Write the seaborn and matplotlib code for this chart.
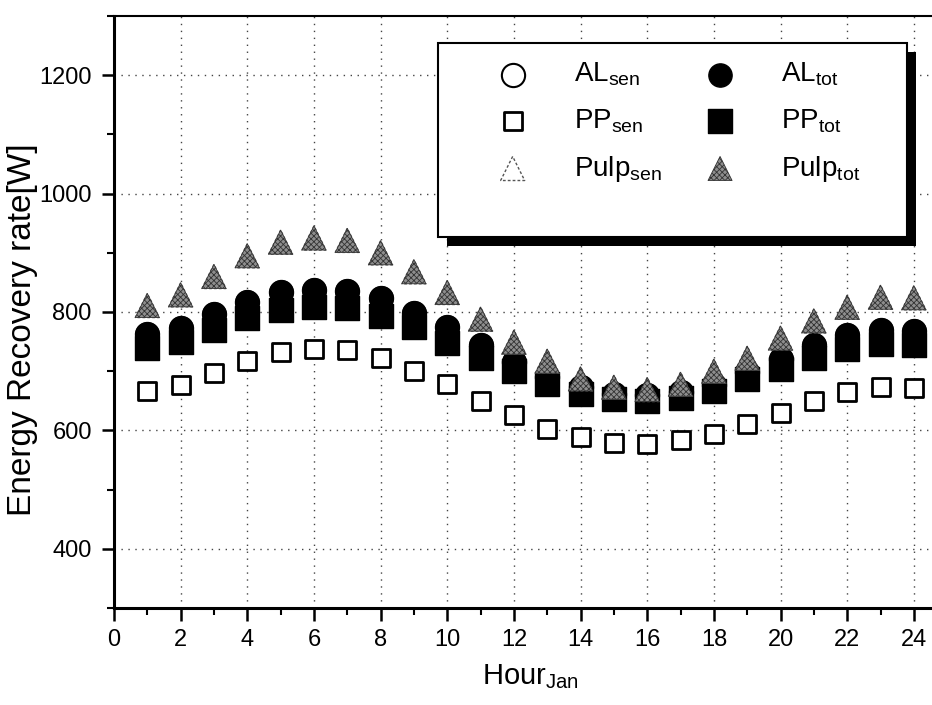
import matplotlib
matplotlib.use("Agg")
import matplotlib.pyplot as plt
import seaborn as sns
from matplotlib.patches import Rectangle
from matplotlib.ticker import MultipleLocator

# Hourly energy recovery rate in January [W]
hours = list(range(1, 25))
al_sen = [762, 773, 796, 817, 834, 838, 836, 823, 799, 775, 745, 716,
          690, 673, 662, 660, 665, 677, 698, 721, 745, 761, 770, 768]
al_tot = [762, 773, 796, 817, 834, 838, 836, 823, 799, 775, 745, 716,
          690, 673, 662, 660, 665, 677, 698, 721, 745, 761, 770, 768]
pp_sen = [667, 677, 697, 717, 732, 738, 735, 722, 701, 678, 650, 626,
          603, 588, 579, 577, 583, 594, 611, 630, 649, 665, 673, 672]
pp_tot = [740, 750, 770, 790, 803, 809, 806, 794, 775, 748, 723, 700,
          679, 661, 653, 650, 655, 667, 686, 704, 722, 737, 746, 745]
pulp_sen = [811, 829, 860, 895, 918, 925, 921, 900, 868, 833, 788, 749,
            717, 687, 673, 669, 678, 700, 722, 756, 785, 808, 825, 824]
pulp_tot = [811, 829, 860, 895, 918, 925, 921, 900, 868, 833, 788, 749,
            717, 687, 673, 669, 678, 700, 722, 756, 785, 808, 825, 824]

x_ticks = list(range(0, 25, 2))
y_ticks = [400, 600, 800, 1000, 1200]

sns.set_theme(style="white")
plt.rcParams["font.family"] = ["Liberation Sans", "DejaVu Sans"]
plt.rcParams["mathtext.fontset"] = "custom"
plt.rcParams["mathtext.rm"] = "Liberation Sans"
plt.rcParams["mathtext.it"] = "Liberation Sans"
plt.rcParams["hatch.linewidth"] = 0.6
plt.rcParams["text.color"] = "black"
plt.rcParams["axes.labelcolor"] = "black"

fig = plt.figure(figsize=(9.32, 7.05), dpi=100)
ax = fig.add_axes([0.1223, 0.1376, 0.894, 0.8397])

# series: (values, marker, size, face, edge, linewidth, label)
series = [
    (pp_sen, "s", 160, "white", "black", 2.0, r"PP$_\mathregular{sen}$"),
    (pp_tot, "s", 280, "black", "black", 1.0, r"PP$_\mathregular{tot}$"),
    (al_sen, "o", 280, "white", "black", 1.5, r"AL$_\mathregular{sen}$"),
    (al_tot, "o", 280, "black", "black", 1.0, r"AL$_\mathregular{tot}$"),
    (pulp_sen, "^", 300, "white", "#555555", 1.0, r"Pulp$_\mathregular{sen}$"),
    (pulp_tot, "^", 300, "#8e8e8e", "#333333", 0.6, r"Pulp$_\mathregular{tot}$"),
]

handles = {}
for vals, mk, size, fc, ec, lw, lab in series:
    sns.scatterplot(x=hours, y=vals, marker=mk, s=size, color=fc,
                    edgecolor=ec, linewidth=lw, ax=ax, zorder=3,
                    legend=False)
    coll = ax.collections[-1]
    if lab.startswith("Pulp$_\\mathregular{sen"):
        coll.set_linestyle((0, (2, 1.5)))
    if lab.startswith("Pulp$_\\mathregular{tot"):
        coll.set_hatch("xxxxxx")
    coll.set_label(lab)
    handles[lab] = coll

ax.set_xlim(0, 25)
ax.set_ylim(300, 1300)
ax.set_xticks(x_ticks)
ax.set_yticks(y_ticks)
ax.xaxis.set_minor_locator(MultipleLocator(1))
ax.yaxis.set_minor_locator(MultipleLocator(100))

ax.grid(True, which="major", linestyle=(0, (1, 4)), color="#444444",
        linewidth=1.0, zorder=0)
ax.set_axisbelow(True)

ax.tick_params(axis="both", which="major", direction="out", length=9,
               width=1.8, color="black", labelsize=17, labelcolor="black",
               bottom=True, left=True, top=False, right=False)
ax.tick_params(axis="both", which="minor", direction="out", length=5,
               width=1.5, color="black", bottom=True, left=True,
               top=False, right=False)
ax.tick_params(axis="x", which="major", pad=6)
ax.tick_params(axis="y", which="major", pad=7)

for side in ("left", "bottom"):
    ax.spines[side].set_linewidth(2.2)
    ax.spines[side].set_color("black")
ax.spines["top"].set_linewidth(1.5)
ax.spines["top"].set_color("black")
ax.spines["right"].set_visible(False)

ax.set_xlabel(r"Hour$_\mathregular{Jan}$", fontsize=21, labelpad=8)
ax.set_ylabel("Energy Recovery rate[W]", fontsize=24)
ax.yaxis.set_label_coords(-0.091, 0.47)

# legend box with drop shadow
W, H = 932.0, 705.0
shadow = Rectangle((447 / W, 1 - 246 / H), 469 / W, 194 / H,
                   transform=fig.transFigure, facecolor="black",
                   edgecolor="none", zorder=5)
box = Rectangle((438 / W, 1 - 237 / H), 469 / W, 194 / H,
                transform=fig.transFigure, facecolor="white",
                edgecolor="black", linewidth=1.5, zorder=6)
ax.add_artist(shadow)
ax.add_artist(box)

order = [r"AL$_\mathregular{sen}$", r"PP$_\mathregular{sen}$",
         r"Pulp$_\mathregular{sen}$", r"AL$_\mathregular{tot}$",
         r"PP$_\mathregular{tot}$", r"Pulp$_\mathregular{tot}$"]
leg = ax.legend([handles[k] for k in order], order, ncol=2,
                loc="upper left", bbox_to_anchor=(496 / W, 1 - 61 / H),
                bbox_transform=fig.transFigure, frameon=False,
                fontsize=20, scatterpoints=1, handlelength=1.2,
                handletextpad=1.6, columnspacing=1.5, labelspacing=0.68,
                borderpad=0, borderaxespad=0)
leg.set_zorder(7)

fig.savefig("out.png", dpi=100)
